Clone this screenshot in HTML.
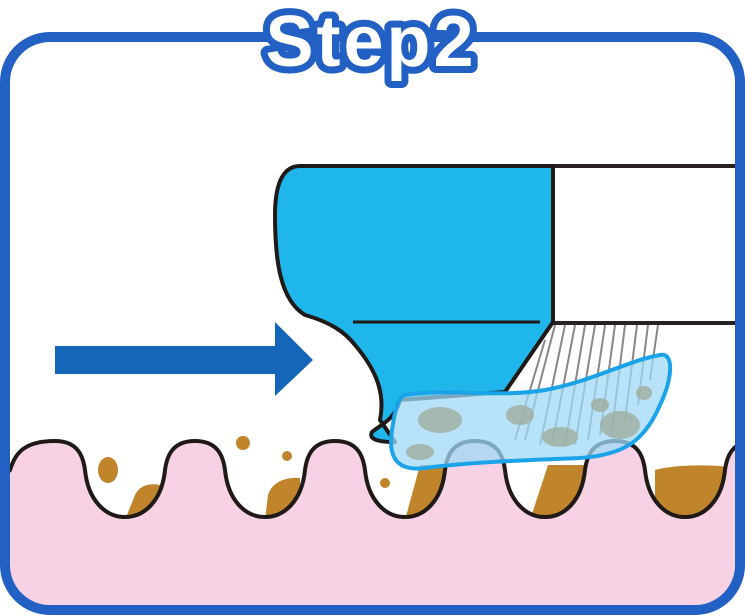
<!DOCTYPE html>
<html><head><style>html,body{margin:0;padding:0;background:#fff}svg{display:block}</style></head>
<body>
<svg width="745" height="616" viewBox="0 0 745 616" xmlns="http://www.w3.org/2000/svg">
<defs><clipPath id="c"><rect x="10" y="42" width="725" height="563" rx="40"/></clipPath></defs>
<g clip-path="url(#c)">
<rect x="0" y="0" width="745" height="616" fill="#fff"/>
<g fill="#c0842a">
<path d="M125,520 L135,495 C140,485 150,483 160,485 L160,520 Z"/>
<path d="M265,520 L268,495 C272,482 285,477 300,478 L300,520 Z"/>
<path d="M405,520 L420,465 L445,465 L445,520 Z"/>
<path d="M530,520 L548,465 L590,465 L590,520 Z"/>
<path d="M655,470 C670,465 710,464 728,467 L728,520 L655,520 Z"/>
<ellipse cx="108" cy="470" rx="10" ry="13"/>
<circle cx="243" cy="443" r="7"/><circle cx="287" cy="456" r="5"/>
<circle cx="385" cy="483" r="5"/>
</g>
<path d="M10,470 C15,455 22,441 55,441
C77,441 83,455 85,470 C88,500 105,517 125,517 C145,517 162,500 165,470 C167,455 173,441 195,441
C217,441 223,455 225,470 C228,500 245,517 265,517 C285,517 302,500 305,470 C307,455 313,441 335,441
C357,441 363,455 365,470 C368,500 385,517 405,517 C425,517 442,500 445,470 C447,455 453,441 475,441
C497,441 503,455 505,470 C508,500 525,517 545,517 C565,517 582,500 585,470 C587,455 593,441 615,441
C637,441 643,455 645,470 C648,500 665,517 685,517 C705,517 722,500 725,470 C727,455 733,441 755,441
L755,616 L0,616 L0,480 Z" fill="#f7d2e4" stroke="#1f1a17" stroke-width="4"/>
<rect x="552" y="166" width="200" height="157" fill="#fff" stroke="#2a2220" stroke-width="4"/>
<g stroke="#8a8686" stroke-width="2">
<line x1="555" y1="325" x2="525" y2="440"/><line x1="565" y1="325" x2="540" y2="445"/>
<line x1="575" y1="325" x2="552" y2="445"/><line x1="585" y1="325" x2="565" y2="445"/>
<line x1="595" y1="325" x2="575" y2="445"/><line x1="605" y1="325" x2="588" y2="440"/>
<line x1="615" y1="325" x2="600" y2="435"/><line x1="625" y1="325" x2="612" y2="430"/>
<line x1="637" y1="325" x2="625" y2="420"/><line x1="648" y1="325" x2="638" y2="405"/>
<line x1="658" y1="325" x2="650" y2="380"/><line x1="545" y1="340" x2="515" y2="440"/>
</g>
<path d="M300,166 L553,166 L553,322 L505,392 L400,400 C395,420 380,425 372,432 C368,440 380,442 395,442 L380,420 C385,395 378,372 355,345 C345,332 330,322 305,315 C280,300 275,260 275,215 C275,180 285,166 300,166 Z" fill="#1fb6ec" stroke="#1f1a17" stroke-width="4" stroke-linejoin="round"/>
<line x1="353" y1="322" x2="540" y2="322" stroke="#1f1a17" stroke-width="3"/>
<path d="M405,395 C450,388 500,398 545,390 C590,382 630,360 660,355 C675,352 672,380 660,405 C645,440 625,455 580,458 C530,460 470,462 425,468 C395,472 388,455 392,430 C395,410 398,397 405,395 Z" fill="#9fd8f4" fill-opacity="0.75" stroke="#1aa3e8" stroke-width="4"/>
<g fill="#9fae9f" opacity="0.8">
<ellipse cx="440" cy="420" rx="22" ry="13"/><ellipse cx="520" cy="415" rx="14" ry="10"/>
<ellipse cx="560" cy="437" rx="18" ry="10"/><ellipse cx="620" cy="425" rx="20" ry="14"/>
<ellipse cx="644" cy="393" rx="8" ry="7"/><ellipse cx="600" cy="405" rx="9" ry="7"/>
<ellipse cx="420" cy="452" rx="14" ry="8"/>
</g>
</g>
<rect x="5" y="37" width="735" height="573" rx="45" fill="none" stroke="#2260c4" stroke-width="10"/>
<rect x="55" y="346" width="222" height="28" fill="#1466b8"/>
<polygon points="275,322 313,360 275,396" fill="#1466b8"/>
<text x="371" y="66" text-anchor="middle" font-family="Liberation Sans, sans-serif" font-weight="bold" font-size="72" fill="#fff" stroke="#2260c4" stroke-width="14" stroke-linejoin="round" paint-order="stroke" letter-spacing="3">Step2</text>
</svg>
</body></html>
